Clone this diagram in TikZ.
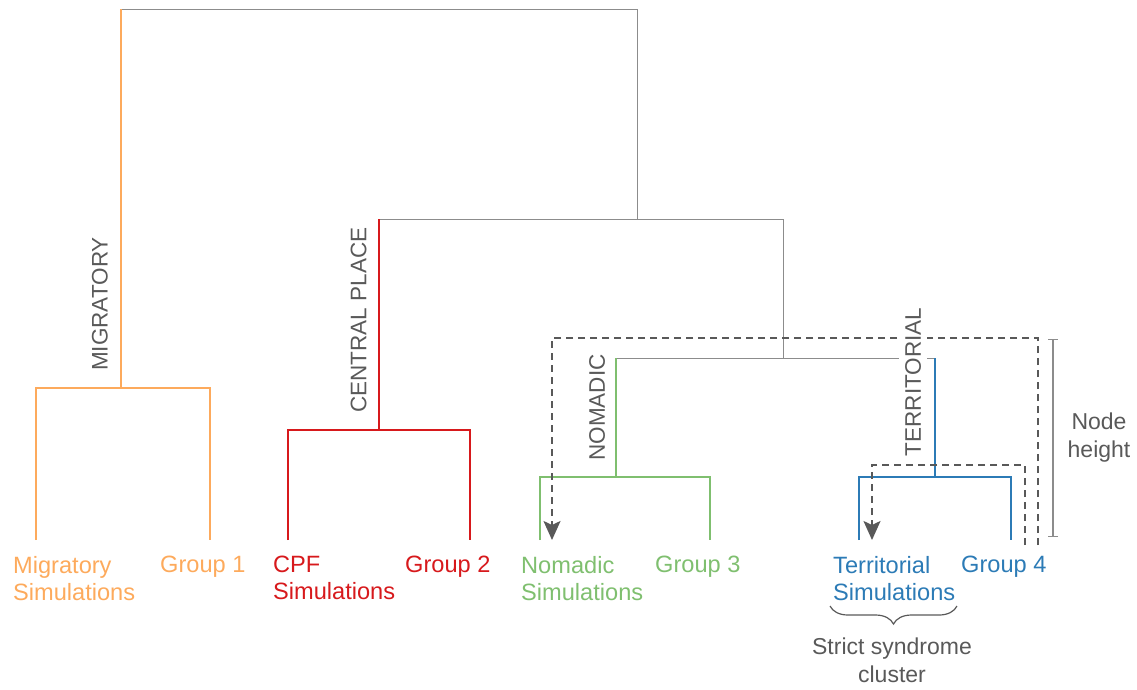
\documentclass[tikz,border=0pt]{standalone}
\usepackage{fontspec}
\setmainfont{Liberation Sans}
\usepackage{tikz}
\usetikzlibrary{arrows.meta,decorations.pathreplacing}

\definecolor{migcol}{HTML}{FDAA5C}
\definecolor{cpfcol}{HTML}{D7191C}
\definecolor{nomcol}{HTML}{7FBF6F}
\definecolor{tercol}{HTML}{2C7BB6}
\definecolor{linkcol}{HTML}{8C8C8C}
\definecolor{notecol}{HTML}{595959}

\begin{document}
\begin{tikzpicture}[x=1pt,y=-1pt,
  link/.style={draw=linkcol,line width=1pt},
  branch/.style={draw=#1,line width=2pt},
  leaf/.style={text=#1,anchor=north west,inner sep=0pt,align=left,
    font=\fontsize{23.6}{27}\selectfont},
  clade/.style={text=notecol,rotate=90,inner sep=0pt,
    font=\fontsize{22.5}{26}\selectfont},
  note/.style={text=notecol,inner sep=0pt,align=center,
    font=\fontsize{23}{28}\selectfont},
  walk/.style={draw=notecol,line width=2pt,dash pattern=on 7pt off 5pt,
    -{Stealth[length=19pt,width=17pt,inset=4pt]}}
  ]
  \useasboundingbox (0,0) rectangle (1137,689);

  \coordinate (lmig) at (36,540);  \coordinate (lg1) at (210,540);
  \coordinate (lcpf) at (288,540); \coordinate (lg2) at (470,540);
  \coordinate (lnom) at (540,540); \coordinate (lg3) at (710,540);
  \coordinate (lter) at (859,540); \coordinate (lg4) at (1011,540);
  \coordinate (jmig) at (121,388); \coordinate (jcpf) at (379,430);
  \coordinate (jnom) at (616,477); \coordinate (jter) at (935,477);
  \coordinate (jnt) at (783,358);  \coordinate (jrest) at (637,219);
  \coordinate (jtop) at (379,9);

  \draw[link] (jmig |- jtop) -| (jrest);
  \draw[link] (jcpf |- jrest) -| (jnt);
  \draw[link] (jnom |- jnt) -- (jter |- jnt);

  \draw[branch=migcol] (lmig) |- (jmig) -| (lg1);
  \draw[branch=migcol] (jmig) -- (jmig |- jtop);
  \draw[branch=cpfcol] (lcpf) |- (jcpf) -| (lg2);
  \draw[branch=cpfcol] (jcpf) -- (jcpf |- jrest);
  \draw[branch=nomcol,line width=1.5pt] (lnom) |- (jnom) -| (lg3);
  \draw[branch=nomcol,line width=1.5pt] (jnom) -- (jnom |- jnt);
  \draw[branch=tercol] (lter) |- (jter) -| (lg4);
  \draw[branch=tercol] (jter) -- (jter |- jnt);

  \coordinate (wout) at (1038,545); \coordinate (wouttop) at (552,338);
  \coordinate (nomtip) at (552,540);
  \coordinate (win) at (1025,545);  \coordinate (wintop) at (872,465);
  \coordinate (tertip) at (872,540);
  \draw[walk] (wout) |- (wouttop) -- (nomtip);
  \draw[walk] (win) |- (wintop) -- (tertip);

  \node[clade] (migl) at (100,304) {MIGRATORY};
  \node[clade] (cpfl) at (358.5,320) {CENTRAL PLACE};
  \node[clade] (noml) at (597,407.5) {NOMADIC};
  \node[clade,fill=white,inner xsep=5pt,inner ysep=6.5pt] (terl) at (913,382) {TERRITORIAL};

  \node[leaf=migcol] (mig) at (13,556) {Migratory\\Simulations};
  \node[leaf=migcol] (g1) at (160,556) {Group 1};
  \node[leaf=cpfcol] (cpf) at (273,556) {CPF\\Simulations};
  \node[leaf=cpfcol] (g2) at (405,556) {Group 2};
  \node[leaf=nomcol] (nom) at (521,556) {Nomadic\\Simulations};
  \node[leaf=nomcol] (g3) at (655,556) {Group 3};
  \node[leaf=tercol] (ter) at (833,556) {Territorial\\Simulations};
  \node[leaf=tercol] (g4) at (961,556) {Group 4};

  \coordinate (hup) at (1053,339); \coordinate (hdown) at (1053,537);
  \draw[linkcol,line width=1.3pt,{Bar[width=10pt]}-{Bar[width=10pt]}] (hup) -- (hdown);
  \node[note] (nh) at (1099,438) {Node\\height};

  \coordinate (bl) at (830,606); \coordinate (br) at (957,606);
  \draw[notecol,line width=1.2pt,decorate,decoration={brace,mirror,amplitude=18pt}] (bl) -- (br);
  \node[note,anchor=north] (ssc) at (892,638) {Strict syndrome\\cluster};
\end{tikzpicture}
\end{document}
